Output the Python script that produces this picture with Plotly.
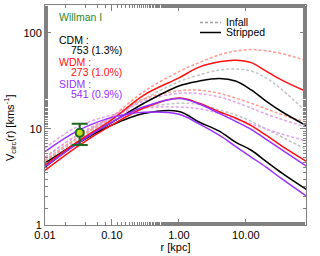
import plotly.graph_objects as go
import math

# radii (kpc)
r_kpc = [0.01, 0.03, 0.1, 0.3, 1, 2, 4, 7, 12, 20, 35, 80]

# CDM
cdm_strip_a  = [4.4, 7.2, 11.7, 18.5, 28.0, 31.5, 33.5, 31.5, 25.5, 19.5, 15.0, 10.8]
cdm_infall_a = [4.6, 7.7, 12.8, 20.5, 31.0, 36.5, 41.0, 42.0, 40.0, 34.0, 25.5, 15.0]
cdm_strip_b  = [4.0, 7.0, 11.0, 14.5, 15.2, 11.8, 9.5, 7.3, 6.0, 4.6, 3.45, 2.35]
cdm_infall_b = [4.8, 8.0, 12.5, 16.5, 18.5, 18.0, 15.8, 14.0, 12.0, 10.0, 8.2, 6.1]
# WDM
wdm_strip_a  = [4.2, 7.3, 12.5, 22.5, 34.0, 44.0, 50.0, 52.0, 49.0, 40.0, 32.0, 24.5]
wdm_infall_a = [4.6, 8.0, 13.5, 24.5, 39.5, 49.0, 59.0, 64.7, 67.0, 65.0, 60.6, 51.4]
wdm_strip_b  = [3.7, 6.5, 11.0, 16.5, 21.0, 18.5, 15.1, 13.0, 10.8, 8.6, 6.6, 4.6]
wdm_infall_b = [5.1, 8.6, 13.5, 20.5, 25.0, 25.3, 23.5, 21.0, 18.5, 16.2, 14.0, 11.8]
# SIDM
sidm_strip_a  = [4.05, 7.0, 11.8, 17.0, 20.8, 18.2, 14.5, 12.0, 9.9, 7.8, 6.0, 4.1]
sidm_infall_a = [5.0, 8.5, 13.0, 19.5, 23.5, 23.3, 21.5, 19.0, 16.5, 14.3, 12.5, 10.5]
sidm_strip_b  = [5.8, 9.5, 13.2, 14.9, 14.2, 11.3, 8.6, 6.6, 5.1, 4.0, 3.0, 2.0]
sidm_infall_b = [6.3, 10.5, 14.0, 16.5, 16.9, 16.2, 14.5, 12.8, 11.3, 10.0, 8.8, 7.5]

# observed point (Willman I)
obs_r = [0.033]
obs_v = [9.1]
obs_err_plus = [2.2]
obs_err_minus = [2.3]

labels_models = ["CDM :", "WDM :", "SIDM :"]
labels_counts = ["753 (1.3%)", "273 (1.0%)", "541 (0.9%)"]

C_CDM, C_CDM_D = "#000000", "#c4c4c4"
C_WDM, C_WDM_D = "#ff1010", "#ff9a90"
C_SIDM, C_SIDM_D = "#9a30ff", "#e0a2ee"

fig = go.Figure()

def add(y, color, dash):
    fig.add_trace(go.Scatter(
        x=r_kpc, y=y, mode="lines", showlegend=False, hoverinfo="skip",
        line=dict(color=color, width=1.5, dash=dash, shape="spline", smoothing=1.0)))

DASH = "3px,2px"
for y, c in [(cdm_infall_a, C_CDM_D), (cdm_infall_b, C_CDM_D),
             (wdm_infall_a, C_WDM_D), (wdm_infall_b, C_WDM_D),
             (sidm_infall_a, C_SIDM_D), (sidm_infall_b, C_SIDM_D)]:
    add(y, c, DASH)
for y, c in [(cdm_strip_a, C_CDM), (cdm_strip_b, C_CDM),
             (wdm_strip_a, C_WDM), (wdm_strip_b, C_WDM),
             (sidm_strip_a, C_SIDM), (sidm_strip_b, C_SIDM)]:
    add(y, c, "solid")

fig.add_trace(go.Scatter(
    x=obs_r, y=obs_v, mode="markers", showlegend=False,
    marker=dict(size=8, color="#c8dc18", line=dict(color="#1f6a1f", width=2)),
    error_y=dict(type="data", symmetric=False, array=obs_err_plus,
                 arrayminus=obs_err_minus, color="#1f6a1f", thickness=2, width=8)))

FONT = "Liberation Sans, Arial, sans-serif"
axis_common = dict(
    type="log", showline=True, linecolor="#808080", linewidth=1, mirror="ticks",
    ticks="inside", ticklen=6, tickcolor="#808080", showgrid=False, zeroline=False,
    tickfont=dict(size=11, color="black", family=FONT),
    minor=dict(ticks="inside", ticklen=3, tickcolor="#808080", showgrid=False),
)
fig.update_xaxes(**axis_common, range=[-2, math.log10(79)],
                 tickvals=[0.01, 0.1, 1, 10], ticktext=["0.01", "0.10", "1.00", "10.00"],
                 title=dict(text="r [kpc]", font=dict(size=11, color="black", family=FONT), standoff=2))
fig.update_yaxes(**axis_common, range=[0, math.log10(195)],
                 tickvals=[1, 10, 100], ticktext=["1", "10", "100"])

anns = []
# pixel positions -> paper coords of the plot area
L, R, T, B = 45, 306, 5, 225
def P(x, y, text, color, xanchor="left", size=10.5, angle=0):
    anns.append(dict(text=text, x=(x - L) / (R - L), y=(B - y) / (B - T), xref="paper", yref="paper",
                     xanchor=xanchor, yanchor="middle", showarrow=False, textangle=angle,
                     font=dict(size=size, color=color, family=FONT)))

P(57, 17, "Willman I", "#2a8a2a")
model_cols = [C_CDM, C_WDM, C_SIDM]
for i in range(3):
    P(57, 40 + 22 * i, labels_models[i], model_cols[i])
    P(69, 50 + 22 * i, labels_counts[i], model_cols[i])
P(224, 22, "Infall", "black")
P(224, 32, "Stripped", "black")
P(10, 128, "V<sub>circ</sub>(r) [kms<sup>-1</sup>]", "black", xanchor="center", size=11, angle=-90)

shapes = [
    dict(type="line", xref="paper", yref="paper", x0=(200 - L) / (R - L), x1=(221 - L) / (R - L),
         y0=(B - 22.5) / (B - T), y1=(B - 22.5) / (B - T), line=dict(color="#a0a0a0", width=1.5, dash=DASH)),
    dict(type="line", xref="paper", yref="paper", x0=(200 - L) / (R - L), x1=(221 - L) / (R - L),
         y0=(B - 32.5) / (B - T), y1=(B - 32.5) / (B - T), line=dict(color="black", width=1.5)),
]

fig.update_layout(
    width=320, height=256, margin=dict(l=L, r=320 - R, t=T, b=256 - B),
    paper_bgcolor="white", plot_bgcolor="white", showlegend=False,
    annotations=anns, shapes=shapes, font=dict(family=FONT),
)
fig.write_html("out.html", config={"displayModeBar": False},
               post_script="document.body.style.margin='0';document.body.style.overflow='hidden';")
